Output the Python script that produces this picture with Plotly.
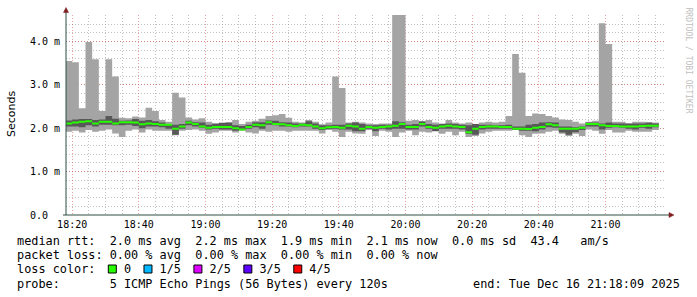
import plotly.graph_objects as go
import pandas as pd

# ---------------- data (milliseconds) ----------------
start_time = "2025-12-16 18:18:00"   # start of first 2-minute step
step = "2min"
range_start = "2025-12-16 18:18:09"
range_end = "2025-12-16 21:18:09"

# 5 pings per step, sorted: min, 2nd, median, 4th, max
rtt_min = [1.92, 1.94, 1.90, 1.96, 1.92, 1.94, 1.97, 1.88, 1.80, 1.94, 1.97, 1.90, 1.97, 1.94, 1.94, 1.94, 1.84, 1.94,
           1.96, 1.97, 1.94, 1.87, 1.90, 1.94, 1.94, 1.90, 1.94, 1.90, 1.88, 1.94, 1.92, 1.94, 1.94, 1.92, 1.94, 1.94,
           1.94, 1.94, 1.88, 1.96, 1.92, 1.80, 1.92, 1.88, 1.87, 1.96, 1.82, 1.94, 1.92, 1.80, 1.90, 1.94, 1.84, 1.92,
           1.90, 1.94, 1.87, 1.92, 1.84, 1.92, 1.80, 1.82, 1.88, 1.92, 1.94, 1.94, 1.94, 1.97, 1.84, 1.80, 1.87, 1.88,
           1.92, 1.94, 1.87, 1.82, 1.87, 1.82, 1.97, 1.94, 1.87, 1.96, 1.90, 1.90, 1.94, 1.92, 1.92, 1.92, 1.96]
rtt_p2 = [2.04, 2.04, 2.02, 2.07, 2.04, 2.08, 2.08, 2.07, 2.07, 2.08, 2.05, 2.00, 2.04, 2.04, 2.02, 1.99, 1.85, 1.99,
          2.07, 2.04, 2.01, 1.97, 1.99, 1.97, 1.97, 1.94, 1.96, 1.99, 2.02, 1.99, 2.08, 2.07, 2.04, 2.04, 2.02, 2.04,
          2.04, 1.99, 1.96, 1.98, 1.99, 1.97, 1.97, 1.93, 1.93, 1.99, 1.93, 1.99, 1.97, 1.99, 1.99, 1.97, 1.97, 2.04,
          1.99, 1.93, 1.99, 1.99, 1.99, 1.97, 1.87, 1.85, 1.97, 1.99, 1.99, 1.99, 1.99, 1.96, 1.94, 1.94, 1.93, 1.97,
          2.02, 2.01, 1.90, 1.85, 1.91, 1.96, 2.04, 2.04, 1.97, 2.01, 2.02, 2.01, 1.99, 1.97, 2.01, 1.99, 2.02]
rtt_median = [2.11, 2.13, 2.15, 2.16, 2.11, 2.15, 2.15, 2.11, 2.14, 2.14, 2.13, 2.09, 2.11, 2.10, 2.08, 2.08, 1.99, 2.04,
              2.13, 2.10, 2.04, 2.01, 2.03, 2.03, 2.03, 2.00, 1.97, 2.03, 2.08, 2.07, 2.14, 2.10, 2.09, 2.07, 2.05, 2.08,
              2.07, 2.04, 2.00, 2.02, 2.03, 2.01, 2.06, 2.04, 1.99, 2.03, 2.01, 2.03, 2.04, 2.06, 2.10, 2.03, 2.03, 2.10,
              2.03, 2.01, 2.04, 2.06, 2.04, 2.03, 1.91, 1.99, 2.03, 2.04, 2.04, 2.03, 2.03, 1.99, 1.99, 1.98, 2.01, 2.03,
              2.09, 2.07, 1.99, 1.99, 1.99, 2.01, 2.10, 2.10, 2.07, 2.05, 2.05, 2.04, 2.04, 2.04, 2.05, 2.06, 2.06]
rtt_p4 = [2.18, 2.20, 2.21, 2.21, 2.19, 2.20, 2.28, 2.22, 2.17, 2.18, 2.21, 2.17, 2.19, 2.16, 2.13, 2.10, 2.08, 2.10,
          2.17, 2.14, 2.13, 2.08, 2.10, 2.12, 2.13, 2.07, 2.05, 2.08, 2.14, 2.14, 2.18, 2.17, 2.14, 2.13, 2.11, 2.11,
          2.16, 2.11, 2.07, 2.07, 2.08, 2.08, 2.11, 2.13, 2.10, 2.07, 2.07, 2.08, 2.08, 2.16, 2.14, 2.08, 2.10, 2.16,
          2.10, 2.08, 2.10, 2.11, 2.10, 2.08, 2.07, 2.10, 2.08, 2.08, 2.07, 2.07, 2.08, 2.04, 2.04, 2.08, 2.10, 2.13,
          2.14, 2.13, 2.04, 2.04, 2.02, 2.04, 2.13, 2.13, 2.11, 2.13, 2.11, 2.11, 2.11, 2.11, 2.11, 2.13, 2.11]
rtt_max = [3.55, 3.52, 2.46, 3.99, 3.59, 2.40, 3.59, 3.19, 2.24, 2.23, 2.27, 2.25, 2.47, 2.40, 2.19, 2.15, 2.82, 2.71,
           2.25, 2.20, 2.23, 2.15, 2.12, 2.13, 2.13, 2.19, 2.10, 2.15, 2.17, 2.22, 2.28, 2.30, 2.33, 2.24, 2.15, 2.13,
           2.19, 2.15, 2.09, 2.13, 3.19, 2.93, 2.13, 2.15, 2.13, 2.11, 2.10, 2.11, 2.11, 4.61, 4.61, 2.17, 2.19, 2.13,
           2.19, 2.13, 2.11, 2.19, 2.13, 2.11, 2.13, 2.10, 2.13, 2.15, 2.13, 2.15, 2.28, 3.71, 3.28, 2.28, 2.34, 2.33,
           2.28, 2.25, 2.20, 2.19, 2.15, 2.11, 2.15, 2.17, 4.42, 3.94, 2.15, 2.15, 2.11, 2.15, 2.15, 2.13, 2.13]

y_max = 4.61
y_tick_values = [0, 1, 2, 3, 4]
y_tick_labels = ["0.0\u00a0\u00a0", "1.0 m", "2.0 m", "3.0 m", "4.0 m"]

legend_rows = [
    "median rtt:  2.0 ms avg  2.2 ms max  1.9 ms min  2.1 ms now  0.0 ms sd  43.4   am/s",
    "packet loss: 0.00 % avg  0.00 % max  0.00 % min  0.00 % now",
    "loss color:    0    1/5    2/5    3/5    4/5",
    "probe:       5 ICMP Echo Pings (56 Bytes) every 120s",
]
end_text = "end: Tue Dec 16 21:18:09 2025"
loss_colors = ["#26ff00", "#00b8ff", "#dd00ff", "#5e00ff", "#ff0000"]
loss_box_cols = [13, 18, 25, 32, 39]

# ---------------- geometry ----------------
W, H = 697, 297
L, R, T, B = 66, 31, 15, 82
PW, PH = W - L - R, H - T - B
MONO = "DejaVu Sans Mono"
LEG_SIZE = 11.85


def px(xp):
    return (xp - L) / PW


def py(yp):
    return (H - B - yp) / PH


times = pd.date_range(start_time, periods=len(rtt_median) + 1, freq=step)
tstr = [t.strftime("%Y-%m-%d_%H:%M:%S") for t in times]  # shape-path date format


def step_path(lo, hi):
    """One closed SVG step outline (in axis data coordinates) between two per-step series."""
    pts = []
    for i, v in enumerate(hi):
        pts += [(tstr[i], v), (tstr[i + 1], v)]
    for i in range(len(lo) - 1, -1, -1):
        pts += [(tstr[i + 1], lo[i]), (tstr[i], lo[i])]
    return "M " + " L ".join(f"{x},{y:.5f}" for x, y in pts) + " Z"


sw = y_max / PH  # one pixel in data units (median band thickness, as SmokePing does)
bands = [
    (rtt_min, rtt_max, "#a4a4a4"),
    (rtt_p2, rtt_p4, "#585858"),
    ([m - sw for m in rtt_median], [m + sw for m in rtt_median], "#26ff00"),
]

fig = go.Figure()
# invisible trace to anchor the axes / hover on median values
fig.add_trace(go.Scatter(x=list(times[:-1] + pd.Timedelta(minutes=1)), y=rtt_median, mode="lines",
                         line=dict(width=0, color="rgba(0,0,0,0)"), showlegend=False,
                         hovertemplate="%{y:.2f} ms<extra></extra>"))

minor_grid = "rgba(143,143,143,0.55)"
major_grid = "rgba(222,80,80,0.55)"

fig.update_layout(
    width=W, height=H,
    margin=dict(l=L, r=R, t=T, b=B, pad=0),
    paper_bgcolor="white", plot_bgcolor="white",
    showlegend=False,
    font=dict(family=MONO, size=10, color="black"),
    xaxis=dict(
        type="date", range=[range_start, range_end],
        tickmode="linear", tick0="2025-12-16 18:20:00", dtick=20 * 60 * 1000,
        tickformat="%H:%M", ticks="", ticklabelstandoff=2,
        showgrid=True, gridcolor=major_grid, griddash="1px,2px", gridwidth=1,
        minor=dict(tick0="2025-12-16 18:20:00", dtick=5 * 60 * 1000, showgrid=True,
                   gridcolor=minor_grid, griddash="1px,2px", gridwidth=1, ticks=""),
        showline=False, zeroline=False, fixedrange=True,
        tickfont=dict(family=MONO, size=10, color="black"),
    ),
    yaxis=dict(
        range=[0, y_max], tickmode="array", tickvals=y_tick_values, ticktext=y_tick_labels,
        ticks="", ticklabelstandoff=5,
        showgrid=True, gridcolor=major_grid, griddash="1px,2px", gridwidth=1,
        minor=dict(dtick=0.2, showgrid=True, gridcolor=minor_grid, griddash="1px,2px",
                   gridwidth=1, ticks=""),
        showline=False, zeroline=False, fixedrange=True,
        tickfont=dict(family=MONO, size=10, color="black"),
    ),
)

shapes = []
for lo, hi, color in bands:
    shapes.append(dict(type="path", xref="x", yref="y", layer="between", path=step_path(lo, hi),
                       fillcolor=color, line=dict(width=0)))

axis_col = "#2C4D43"
arrow_col = "#7F1F1F"
shapes += [
    dict(type="line", xref="paper", yref="paper", x0=0, x1=0, y0=py(215), y1=py(11),
         line=dict(color=axis_col, width=1)),
    dict(type="line", xref="paper", yref="paper", x0=px(63), x1=px(670), y0=0, y1=0,
         line=dict(color=axis_col, width=1)),
    dict(type="path", xref="paper", yref="paper",
         path=f"M {px(63.5)} {py(12.5)} L {px(68.5)} {py(12.5)} L {px(66)} {py(7.5)} Z",
         fillcolor=arrow_col, line=dict(color=arrow_col, width=0.5)),
    dict(type="path", xref="paper", yref="paper",
         path=f"M {px(669)} {py(212.5)} L {px(669)} {py(217.5)} L {px(674)} {py(215)} Z",
         fillcolor=arrow_col, line=dict(color=arrow_col, width=0.5)),
]

cw = LEG_SIZE * 0.602  # monospace advance
row_y = [241, 255, 269, 284]
for col, c in zip(loss_box_cols, loss_colors):
    cx = 16 + (col + 0.5) * cw
    shapes.append(dict(type="rect", xref="paper", yref="paper",
                       x0=px(cx - 4), x1=px(cx + 4), y0=py(row_y[2] + 4), y1=py(row_y[2] - 4),
                       fillcolor=c, line=dict(color="black", width=1)))
fig.update_layout(shapes=shapes)

ann = []
for text, yrow in zip(legend_rows, row_y):
    ann.append(dict(text=text.replace(" ", "\u00a0"), xref="paper", yref="paper",
                    x=px(15), y=py(yrow), xanchor="left", yanchor="middle", showarrow=False,
                    font=dict(family=MONO, size=LEG_SIZE, color="black")))
ann.append(dict(text=end_text.replace(" ", "\u00a0"), xref="paper", yref="paper",
                x=px(682), y=py(row_y[3]), xanchor="right", yanchor="middle", showarrow=False,
                font=dict(family=MONO, size=LEG_SIZE, color="black")))
ann.append(dict(text="Seconds", xref="paper", yref="paper", x=px(11), y=py(114),
                xanchor="center", yanchor="middle", textangle=-90, showarrow=False,
                font=dict(family="DejaVu Sans", size=11, color="black")))
ann.append(dict(text="RRDTOOL / TOBI OETIKER", xref="paper", yref="paper", x=px(687.5), y=py(60),
                xanchor="center", yanchor="middle", textangle=90, showarrow=False,
                font=dict(family=MONO, size=8, color="#c0c0c0")))
fig.update_layout(annotations=ann)

fig.write_html("out.html", config=dict(displayModeBar=False))
